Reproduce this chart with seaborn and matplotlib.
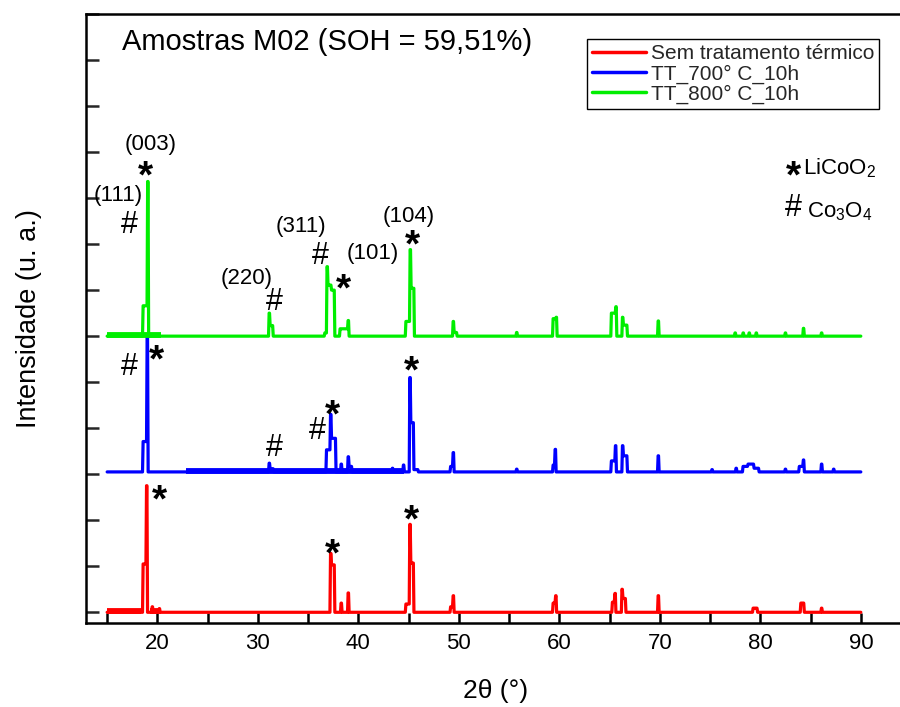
import numpy as np
import pandas as pd
import matplotlib
matplotlib.use("Agg")
import matplotlib.pyplot as plt
import seaborn as sns

# ---------------- data ----------------
series_names = ["Sem tratamento térmico", "TT_700° C_10h", "TT_800° C_10h"]
series_colors = ["#FF0000", "#0000FF", "#00EE00"]
baselines = [0.0, 3.05, 6.0]
two_theta_start = 15.0
two_theta_end = 90.0

# Sem tratamento térmico (red)
red_pos = [18.60, 18.94, 19.50, 20.20, 37.25, 37.58, 38.30, 39.00, 44.75, 45.14, 45.45,
           49.20, 49.45, 59.40, 59.65, 65.30, 65.55, 66.25, 66.55, 69.85, 79.30, 79.65,
           84.05, 84.30, 86.10]
red_int = [1.05, 2.75, 0.12, 0.08, 1.28, 1.03, 0.20, 0.42, 0.18, 1.91, 1.07,
           0.12, 0.36, 0.20, 0.36, 0.22, 0.41, 0.50, 0.30, 0.36, 0.09, 0.09,
           0.20, 0.20, 0.09]
red_noisy = [(15.0, 18.4), (19.3, 20.4)]

# TT_700° C_10h (blue)
blue_pos = [18.60, 19.00, 31.14, 31.50, 36.85, 37.25, 37.70, 38.30, 39.00, 39.30, 43.40,
            44.50, 45.14, 45.45, 45.90, 49.20, 49.45, 55.76, 59.40, 59.60, 65.20, 65.60,
            66.30, 66.70, 69.85, 75.20, 77.60, 78.30, 78.80, 79.30, 79.80, 82.50, 83.90,
            84.30, 86.10, 87.30]
blue_int = [0.66, 2.98, 0.19, 0.07, 0.48, 1.25, 0.73, 0.17, 0.33, 0.12, 0.08,
            0.15, 2.05, 1.07, 0.05, 0.12, 0.42, 0.06, 0.15, 0.49, 0.24, 0.57,
            0.57, 0.35, 0.35, 0.05, 0.08, 0.12, 0.17, 0.17, 0.08, 0.06, 0.12,
            0.26, 0.17, 0.06]
blue_noisy = [(22.8, 44.5)]

# TT_800° C_10h (green)
green_pos = [18.60, 19.05, 31.14, 31.45, 36.68, 36.90, 37.25, 37.58, 38.20, 38.60, 39.00,
             44.75, 45.17, 45.50, 49.45, 49.75, 55.76, 59.40, 59.70, 65.20, 65.64, 66.30,
             66.70, 69.85, 77.50, 78.30, 78.90, 79.60, 82.50, 84.30, 86.10]
green_int = [0.66, 3.36, 0.50, 0.23, 0.07, 1.51, 1.11, 1.00, 0.16, 0.16, 0.34,
             0.32, 1.88, 1.04, 0.32, 0.08, 0.08, 0.38, 0.41, 0.50, 0.64, 0.41,
             0.24, 0.33, 0.07, 0.07, 0.07, 0.07, 0.07, 0.17, 0.07]
green_noisy = [(15.0, 20.4)]

title_text = "Amostras M02 (SOH = 59,51%)"
x_label = "2θ (°)"
y_label = "Intensidade (u. a.)"
x_tick_values = [20, 30, 40, 50, 60, 70, 80, 90]

hkl_labels = ["(003)", "(111)", "(220)", "(311)", "(101)", "(104)"]
hkl_x = [19.37, 16.05, 28.85, 34.27, 41.43, 45.04]
hkl_y = [10.17, 9.05, 7.26, 8.38, 7.79, 8.60]

star_x = [18.84, 38.50, 45.37, 19.87, 37.45, 45.31, 20.20, 37.45, 45.31]
star_y = [9.69, 7.25, 8.20, 5.70, 4.51, 5.45, 2.66, 1.48, 2.22]
hash_x = [17.20, 31.60, 36.26, 17.20, 31.60, 35.92]
hash_y = [8.42, 6.74, 7.75, 5.34, 3.57, 3.93]


def build_profile(pos, inten, base, hw=0.08, top=0.02, gap=0.5):
    xs = [two_theta_start]
    ys = [base]
    i = 0
    n = len(pos)
    while i < n:
        group = [i]
        while i + 1 < n and pos[i + 1] - pos[i] <= gap:
            i += 1
            group.append(i)
        xs.append(pos[group[0]] - hw)
        ys.append(base)
        for k, j in enumerate(group):
            xs += [pos[j] - top, pos[j] + top]
            ys += [base + inten[j]] * 2
            if k + 1 < len(group):
                nxt = group[k + 1]
                m = min(inten[j], inten[nxt])
                xs += [pos[j] + hw, pos[nxt] - hw]
                ys += [base + m, base + m]
        xs.append(pos[group[-1]] + hw)
        ys.append(base)
        i += 1
    xs.append(two_theta_end)
    ys.append(base)
    return xs, ys


frames = []
for name, p, h, b in zip(series_names,
                         [red_pos, blue_pos, green_pos],
                         [red_int, blue_int, green_int],
                         baselines):
    xs, ys = build_profile(p, h, b)
    frames.append(pd.DataFrame({"x": xs, "y": ys, "series": name}))
df = pd.concat(frames, ignore_index=True)

# ---------------- drawing ----------------
sns.set_theme(style="white")
plt.rcParams["font.family"] = ["Liberation Sans", "DejaVu Sans"]
plt.rcParams["mathtext.fontset"] = "custom"
plt.rcParams["mathtext.rm"] = "Liberation Sans"
plt.rcParams["mathtext.it"] = "Liberation Sans:italic"

fig = plt.figure(figsize=(9, 7.07), dpi=100)
ax = fig.add_axes([0.0956, 0.1188, 0.91, 0.8614])

sns.lineplot(data=df, x="x", y="y", hue="series", hue_order=series_names,
             palette=dict(zip(series_names, series_colors)), sort=False,
             estimator=None, linewidth=2.3, ax=ax)

# noisy baseline stretches drawn as a thicker band
for col, b, ranges in zip(series_colors, baselines, [red_noisy, blue_noisy, green_noisy]):
    for (a, c) in ranges:
        ax.plot([a, c], [b + 0.02, b + 0.02], color=col, linewidth=4.2,
                solid_capstyle="butt", zorder=2)

ax.set_xlim(12.9, 94.4)
ax.set_ylim(-0.233, 13.0)

for s in ["left", "bottom", "top", "right"]:
    ax.spines[s].set_color("black")
    ax.spines[s].set_linewidth(1.8)

ax.set_xticks(x_tick_values)
ax.set_xticklabels([str(v) for v in x_tick_values])
ax.set_xticks([15, 25, 35, 45, 55, 65, 75, 85], minor=True)
ax.set_yticks(range(0, 14))
ax.tick_params(axis="x", which="both", direction="in", length=7, width=1.8,
               labelsize=16, pad=7, top=False, bottom=True, colors="black")
ax.tick_params(axis="y", which="both", direction="in", length=9, width=1.8,
               left=True, labelleft=False)

ax.set_xlabel(x_label, fontsize=19, labelpad=18, color="black")
ax.set_ylabel(y_label, fontsize=19.5, labelpad=32, color="black")

ax.text(16.48, 12.4, title_text, fontsize=21, ha="left", va="center", color="black")

for t, x, y in zip(hkl_labels, hkl_x, hkl_y):
    ax.text(x, y, t, fontsize=16, ha="center", va="center", color="black")
for x, y in zip(star_x, star_y):
    ax.text(x, y - 0.25, "*", fontsize=28, fontweight="bold", ha="center", va="center", color="black")
for x, y in zip(hash_x, hash_y):
    ax.text(x, y, "#", fontsize=22, ha="center", va="center", color="black")

ax.text(83.25, 9.69 - 0.25, "*", fontsize=28, fontweight="bold", ha="center", va="center", color="black")
ax.text(84.24, 9.64, "LiCoO$_2$", fontsize=16, ha="left", va="center", color="black")
ax.text(83.25, 8.79, "#", fontsize=22, ha="center", va="center", color="black")
ax.text(84.6, 8.71, "Co$_3$O$_4$", fontsize=16, ha="left", va="center", color="black")

handles, labels = ax.get_legend_handles_labels()
leg = ax.legend(handles, labels, loc="upper left", bbox_to_anchor=(587 / 900, 1 - 39 / 707),
                bbox_transform=fig.transFigure, fontsize=15, frameon=True, fancybox=False,
                framealpha=1, edgecolor="black", handlelength=2.6, handletextpad=0.2,
                labelspacing=0.05, borderpad=0.25, borderaxespad=0)
leg.get_frame().set_linewidth(1.0)
for line in leg.get_lines():
    line.set_linewidth(2.5)

fig.savefig("out.png", dpi=100)
